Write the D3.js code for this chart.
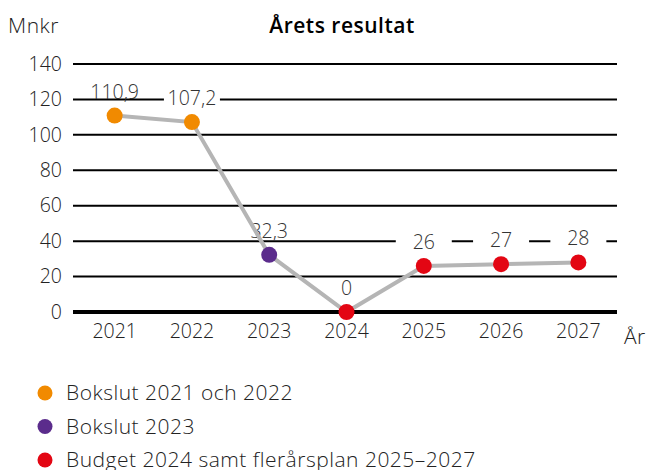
<!DOCTYPE html>
<html>
<head>
<meta charset="utf-8">
<script src="https://cdn.jsdelivr.net/npm/d3@7"></script>
<style>
  body { margin: 0; background: #fff; }
  text { font-family: "Open Sans", sans-serif; fill: #222; }
</style>
</head>
<body>
<div id="chart"></div>
<script>
var years = ['2021', '2022', '2023', '2024', '2025', '2026', '2027'];
var values = [110.9, 107.2, 32.3, 0, 26, 27, 28];
var valueLabels = ['110,9', '107,2', '32,3', '0', '26', '27', '28'];
var groups = [0, 0, 1, 2, 2, 2, 2];
var legendLabels = ['Bokslut 2021 och 2022', 'Bokslut 2023', 'Budget 2024 samt flerårsplan 2025–2027'];
var colours = ['#f18a00', '#5b2c8c', '#e30613'];
var yTicks = [0, 20, 40, 60, 80, 100, 120, 140];

var width = 651, height = 470;

var svg = d3.select('#chart').append('svg')
    .attr('width', width)
    .attr('height', height);

var xScale = d3.scaleBand().domain(years).range([76, 617]),
    yScale = d3.scaleLinear().domain([0, 140]).range([312, 64]),
    colourScale = d3.scaleOrdinal().domain([0, 1, 2]).range(colours);

var data = years.map(function(y, i) {
  return {year: y, value: values[i], label: valueLabels[i], group: groups[i]};
});

function cx(d) { return xScale(d.year) + xScale.bandwidth() / 2; }

// title + unit
svg.append('text')
    .attr('x', 342)
    .attr('y', 33)
    .style('text-anchor', 'middle')
    .style('font-size', '21px')
    .style('font-weight', 600)
    .style('letter-spacing', '0.5px')
    .style('fill', '#000')
    .text('Årets resultat');

svg.append('text')
    .attr('x', 8)
    .attr('y', 33)
    .style('font-size', '21px')
    .style('font-weight', 300)
    .style('letter-spacing', '0.5px')
    .text('Mnkr');

// gridlines
svg.append('g').selectAll('line')
    .data(yTicks)
  .enter().append('line')
    .attr('x1', 73)
    .attr('x2', 617)
    .attr('y1', function(d) { return yScale(d); })
    .attr('y2', function(d) { return yScale(d); })
    .style('stroke', '#000')
    .style('stroke-width', function(d) { return d === 0 ? 4 : 2; });

// y axis labels
var yAxis = svg.append('g')
    .attr('transform', 'translate(73,0)')
    .call(d3.axisLeft(yScale).tickValues(yTicks).tickSize(0).tickPadding(11));
yAxis.select('.domain').remove();
yAxis.selectAll('text')
    .style('font-family', '"Open Sans", sans-serif')
    .style('font-size', '19.5px')
    .style('font-weight', 300)
    .style('fill', '#222');

// x axis labels
var xAxis = svg.append('g')
    .attr('transform', 'translate(0,318)')
    .call(d3.axisBottom(xScale).tickSize(0).tickPadding(6));
xAxis.select('.domain').remove();
xAxis.selectAll('text')
    .style('font-family', '"Open Sans", sans-serif')
    .style('font-size', '19.5px')
    .style('font-weight', 300)
    .style('fill', '#222');

svg.append('text')
    .attr('x', 624)
    .attr('y', 344)
    .style('font-size', '21px')
    .style('font-weight', 300)
    .style('letter-spacing', '0.5px')
    .text('År');

// value labels with white boxes behind them
var labels = svg.append('g').selectAll('g')
    .data(data)
  .enter().append('g')
    .attr('transform', function(d) { return 'translate(' + cx(d) + ',' + (yScale(d.value) - 17) + ')'; });

labels.append('rect')
    .attr('x', -28)
    .attr('y', -16)
    .attr('width', 56)
    .attr('height', 14)
    .style('fill', '#fff');

labels.append('text')
    .style('text-anchor', 'middle')
    .style('font-size', '19.5px')
    .style('font-weight', 300)
    .style('fill', '#333')
    .text(function(d) { return d.label; });

// line
var line = d3.line()
    .x(cx)
    .y(function(d) { return yScale(d.value); });

svg.append('path')
    .datum(data)
    .attr('d', line)
    .style('fill', 'none')
    .style('stroke', '#b5b5b5')
    .style('stroke-width', 4);

// points
svg.append('g').selectAll('circle')
    .data(data)
  .enter().append('circle')
    .attr('cx', cx)
    .attr('cy', function(d) { return yScale(d.value); })
    .attr('r', 8)
    .style('fill', function(d) { return colourScale(d.group); });

// legend
var legend = svg.append('g').selectAll('g')
    .data(legendLabels)
  .enter().append('g')
    .attr('transform', function(d, i) { return 'translate(45,' + (393 + i * 33.5) + ')'; });

legend.append('circle')
    .attr('r', 7.5)
    .style('fill', function(d, i) { return colours[i]; });

legend.append('text')
    .attr('x', 21)
    .attr('dy', '0.35em')
    .style('font-size', '21px')
    .style('font-weight', 300)
    .style('letter-spacing', '0.5px')
    .text(function(d) { return d; });
</script>
</body>
</html>
